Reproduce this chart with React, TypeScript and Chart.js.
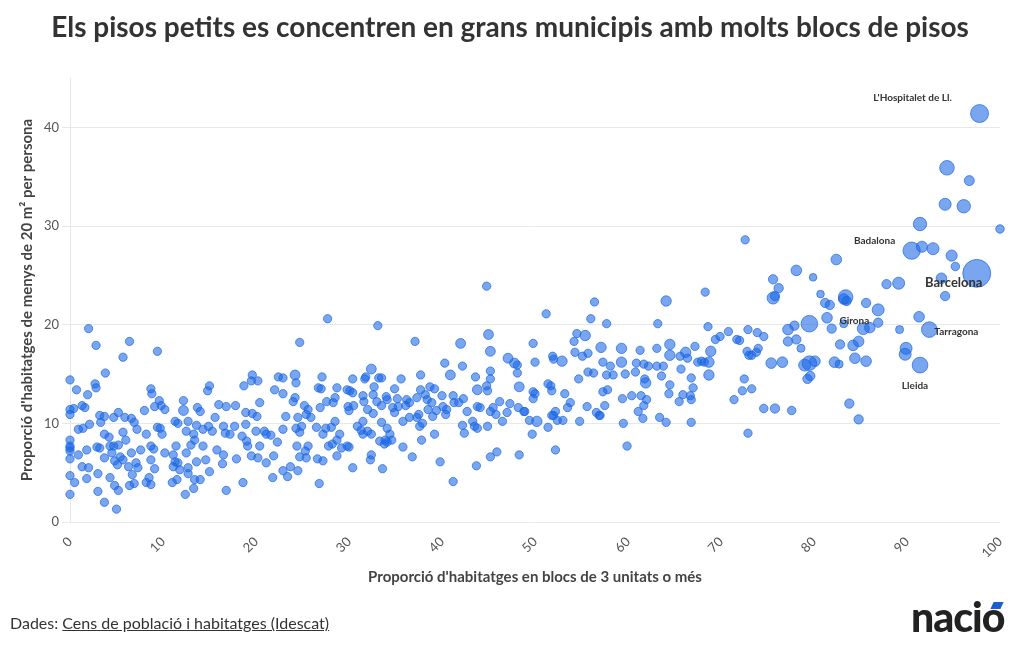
import React, { useEffect, useRef } from "react";
import { Chart, registerables } from "chart.js";

Chart.register(...registerables);

// Each municipality: [share of dwellings in blocks of 3+ units (%), share of dwellings < 20 m² per person (%), population (thousands, optional)]
type Town = [number, number, number?];

const townsLowBlocks: Town[] = [
  [2.0, 19.6], [2.8, 17.9], [6.4, 18.3], [5.7, 16.7], [9.4, 17.3], [3.8, 15.1], [0, 14.4], [0.7, 13.4], [1.9, 12.9], [2.7, 14.0],
  [2.8, 13.6], [1.3, 11.8], [1.6, 11.6], [0, 11.4], [0, 10.9], [0.4, 11.5], [3.2, 10.8], [3.7, 10.7], [3.3, 10.1], [2.1, 9.9],
  [1.4, 9.5], [0.9, 9.4], [0, 8.3], [0, 7.7], [0, 7.2], [0, 7.5], [0, 6.4], [0.9, 6.8], [1.8, 7.3], [2.9, 7.6], [1.3, 5.6],
  [2.0, 5.5], [1.8, 4.4], [0, 4.7], [0.5, 4.0], [0, 2.8], [3.0, 4.9], [3.0, 3.1], [3.7, 2.0], [5.0, 1.3], [4.3, 4.5],
  [4.8, 3.7], [5.2, 3.2], [3.2, 7.5], [3.7, 6.5], [4.3, 7.7], [4.7, 7.7], [4.5, 7.0], [5.2, 7.8], [5.4, 6.6], [4.8, 6.2],
  [5.1, 5.8], [3.7, 8.9], [4.2, 8.6], [4.7, 10.6], [5.2, 11.1], [5.7, 9.1], [6.0, 8.3], [7.2, 9.4], [6.6, 10.5], [6.9, 10.1],
  [5.9, 10.6], [5.7, 6.3], [6.3, 5.6], [6.6, 7.0], [7.1, 6.0], [7.3, 5.5], [7.6, 7.3], [6.7, 4.8], [6.4, 3.7], [6.9, 3.9],
  [8.2, 4.0], [8.7, 3.8], [8.2, 8.9], [8.7, 7.7], [9.0, 7.4], [8.7, 6.3], [9.1, 5.4], [8.5, 4.5], [8.0, 11.3], [8.7, 13.5],
  [8.8, 13.0], [9.1, 11.7], [9.6, 12.3], [9.8, 11.8], [10.2, 11.4], [9.4, 9.6], [9.7, 9.5], [9.9, 8.9], [10.2, 7.0], [11.1, 6.8],
  [11.4, 7.7], [11.3, 6.1], [11.1, 5.6], [11.6, 6.0], [11.8, 5.3], [11.5, 4.3], [11.0, 4.0], [11.3, 10.2], [11.6, 10.0], [12.2, 11.3, 8],
  [12.2, 12.3], [12.7, 10.2], [12.5, 9.2], [13.0, 7.8], [13.3, 8.9], [13.6, 9.8], [13.7, 11.6], [14.0, 11.2], [13.4, 8.3], [12.5, 7.0],
  [13.6, 6.1], [12.7, 5.5], [12.7, 4.9], [13.4, 4.3], [14.0, 4.3], [13.3, 3.4], [12.4, 2.8], [14.3, 9.4], [14.9, 9.7], [15.0, 13.8],
  [14.8, 13.3], [15.6, 10.6], [15.3, 9.2], [15.8, 7.3], [16.5, 9.7], [16.0, 11.9], [16.8, 11.7], [16.7, 9.0], [17.2, 8.9], [17.7, 9.7],
  [17.8, 11.8], [14.3, 7.7], [14.6, 6.3], [15.0, 5.1], [16.5, 6.8], [16.4, 5.9], [17.9, 6.4], [16.8, 3.2], [18.6, 4.0], [18.7, 13.8],
  [19.6, 14.9], [19.5, 14.3], [20.2, 14.3], [20.4, 12.1], [18.9, 11.1], [19.6, 11.0], [20.1, 10.7], [18.9, 9.9], [20.0, 9.2], [20.9, 9.2],
  [21.1, 8.9], [21.6, 8.8], [18.5, 8.7], [19.0, 8.2], [19.1, 7.7], [19.5, 6.7], [20.2, 6.5], [20.4, 7.7], [21.1, 6.0], [21.9, 6.7],
  [21.8, 4.5], [22.3, 8.1], [22.9, 9.4], [23.2, 10.7], [24.2, 14.9, 8], [24.3, 14.1], [22.4, 14.7], [22.9, 14.6], [22.0, 13.4], [22.9, 13.0],
  [24.0, 12.2], [24.2, 12.6], [24.5, 10.6], [24.3, 9.5], [24.7, 9.1], [24.4, 7.7], [25.3, 7.2], [24.7, 6.6], [23.7, 5.6], [23.4, 4.6],
  [24.5, 5.2], [22.9, 5.2], [25.4, 10.9], [25.2, 11.8], [24.7, 18.2],
];

const townsMidBlocks: Town[] = [
  [25.6, 11.4], [25.9, 10.6], [25.4, 6.5], [25.6, 7.7], [24.9, 9.7], [27.7, 20.6], [33.1, 19.9], [37.1, 18.3], [42.0, 18.1, 8], [45.0, 19.0, 8],
  [45.2, 17.3, 8], [47.1, 16.6, 8], [47.8, 16.1, 8], [48.1, 15.9], [48.1, 15.1], [48.3, 13.7, 8], [40.3, 16.1], [42.2, 15.8], [40.9, 14.9, 8], [45.2, 15.3],
  [45.2, 14.5], [44.8, 13.8], [43.8, 13.4, 8], [44.9, 13.3], [43.6, 14.7], [37.7, 14.9], [35.6, 14.5], [33.2, 14.6], [33.5, 14.6], [32.4, 15.5, 8],
  [31.8, 14.7], [31.7, 14.5], [30.4, 14.5], [27.1, 14.7], [26.7, 13.6], [27.0, 13.5], [28.7, 13.6], [29.8, 13.4], [30.1, 13.3], [30.4, 13.1],
  [32.7, 13.7], [32.6, 12.9], [31.5, 12.8], [31.6, 12.2], [34.9, 13.5], [34.0, 12.7], [34.1, 12.4], [35.2, 12.5], [36.2, 12.4], [36.5, 12.1],
  [36.1, 11.8], [35.3, 11.7], [37.3, 12.6], [37.7, 13.4], [38.4, 12.4], [38.2, 12.9], [38.7, 13.7], [39.2, 13.5], [40.0, 12.8], [38.9, 12.1],
  [38.5, 11.4], [37.5, 10.9], [37.3, 10.6], [37.9, 10.0], [37.6, 9.7], [39.0, 10.7], [39.4, 11.3], [40.1, 11.7], [40.5, 11.4], [40.4, 10.9],
  [41.2, 12.8], [41.3, 12.1], [41.8, 12.1], [42.3, 12.5], [42.2, 9.8], [42.4, 9.0], [42.7, 11.2], [43.3, 10.2], [43.5, 9.7], [43.8, 11.7],
  [44.1, 11.6], [43.8, 9.5], [44.9, 9.7], [45.2, 11.2], [45.5, 11.6], [46.2, 12.2], [45.8, 10.9], [46.5, 10.2], [47.0, 11.1], [47.3, 12.0],
  [48.2, 11.6], [48.9, 11.2], [49.4, 10.3], [48.3, 6.8], [45.9, 7.1], [45.2, 6.6], [43.7, 5.7], [39.8, 6.1], [41.2, 4.1], [26.5, 9.6],
  [26.9, 11.6], [27.6, 12.2], [28.3, 12.1], [28.5, 12.6], [28.1, 9.6], [28.5, 10.2], [27.5, 9.5], [27.2, 8.9], [27.8, 7.7], [28.2, 7.9],
  [28.7, 8.3], [29.0, 8.9], [29.2, 7.5], [29.8, 7.7], [30.0, 7.6], [28.7, 6.7], [27.2, 6.2], [26.6, 6.4], [26.8, 3.9], [29.9, 11.7],
  [30.0, 11.3], [30.5, 11.8], [30.9, 9.7], [31.5, 10.2], [31.3, 9.3], [31.5, 8.9], [32.0, 9.2], [32.4, 8.9], [32.4, 6.8], [32.3, 6.3],
  [30.4, 5.5], [33.6, 5.4], [32.0, 11.4], [32.6, 11.0], [33.0, 12.2], [33.5, 11.8], [33.5, 10.1], [34.1, 9.5], [34.4, 8.9], [34.6, 8.3],
  [34.1, 8.1], [33.9, 8.3], [33.8, 7.9], [33.3, 8.2], [34.7, 11.6], [34.9, 11.1], [35.8, 10.2], [35.8, 7.6], [36.8, 6.6], [37.8, 8.3],
  [39.2, 8.9], [36.5, 10.6], [44.8, 23.9],
];

const townsHighBlocks: Town[] = [
  [68.3, 23.3], [64.1, 22.4, 12], [56.4, 22.3], [51.2, 21.1], [56.0, 20.6], [57.7, 20.1], [63.2, 20.1], [68.6, 19.8], [70.8, 19.3], [71.7, 18.5],
  [72.0, 18.4], [72.9, 19.5], [54.5, 19.1], [55.4, 18.9, 12], [54.2, 18.3], [49.8, 18.1], [54.3, 17.2], [55.1, 16.8], [55.7, 17.1], [57.1, 17.7, 12],
  [59.3, 17.6, 12], [61.3, 17.4], [63.1, 17.6], [64.5, 18.0, 12], [64.5, 16.9, 12], [65.6, 16.8], [66.2, 17.2, 12], [66.4, 16.6], [67.2, 17.8], [68.9, 17.3, 12],
  [69.4, 18.5], [69.9, 18.8], [50.0, 16.2], [51.9, 16.8], [52.0, 16.5], [52.9, 16.3, 12], [57.3, 16.2], [58.1, 15.8], [59.3, 16.2, 12], [60.9, 16.1],
  [61.7, 16.0], [62.2, 15.8], [63.1, 15.8], [63.8, 15.8], [67.5, 16.2], [67.9, 16.3], [68.2, 16.2], [68.7, 16.2, 12], [68.7, 14.9, 12], [66.8, 14.6],
  [65.7, 15.5], [63.6, 14.8], [60.8, 15.2], [59.7, 15.0], [57.7, 14.9], [58.4, 14.9], [55.7, 15.2], [56.3, 15.1], [54.7, 14.5], [49.8, 13.2],
  [50.0, 13.0], [49.8, 12.5], [51.4, 14.0], [51.7, 13.8], [51.8, 13.3], [53.2, 13.0], [53.8, 12.1], [53.5, 11.6], [52.2, 11.2], [52.0, 10.8],
  [52.4, 10.3], [53.0, 10.3], [50.2, 10.2, 12], [51.4, 9.6], [49.7, 8.9], [52.2, 7.3], [54.8, 10.2], [55.6, 11.7], [56.6, 11.1], [56.9, 10.8],
  [57.5, 11.8], [57.3, 13.2], [57.8, 13.4], [59.4, 12.5], [60.4, 12.8], [61.4, 12.8], [62.0, 12.4], [61.7, 11.8], [61.1, 11.2], [61.6, 10.5],
  [59.5, 10.0], [59.9, 7.7], [61.8, 14.5], [61.9, 14.1, 12], [63.4, 10.6], [64.1, 10.1], [64.5, 13.9], [64.4, 13.0], [65.5, 12.2], [65.9, 12.9],
  [66.7, 12.8], [66.8, 12.4], [67.0, 13.6], [66.8, 10.1], [71.4, 12.4], [72.3, 13.3], [72.5, 14.5], [72.8, 17.3], [73.0, 16.9], [72.9, 9.0],
  [48.8, 11.2], [51.8, 10.8], [57.0, 10.8], [72.6, 28.6], [73.9, 19.2], [74.6, 18.8], [73.3, 16.9], [74.0, 17.6], [73.8, 17.2], [73.3, 13.5],
];

const townsVeryHighBlocks: Town[] = [
  [97.8, 41.4, 265], [94.3, 35.9, 95], [96.7, 34.6, 9], [94.1, 32.2, 32], [96.1, 32.0, 60], [91.4, 30.2, 60], [100, 29.7, 2], [90.5, 27.5, 223],
  [91.6, 27.9, 20], [92.8, 27.7, 32], [94.8, 27.0, 20], [95.2, 25.9, 2], [97.5, 25.2, 1660], [93.7, 24.7, 14], [82.4, 26.6, 14], [78.1, 25.5, 14],
  [79.9, 24.8, 0.5], [75.6, 24.6, 5], [76.2, 23.7, 5], [75.6, 22.7, 32], [75.8, 22.9, 5], [89.1, 24.2, 32], [87.8, 24.1, 5], [94.1, 22.9, 5],
  [80.7, 23.1, 0.5], [81.2, 22.2, 5], [81.7, 22.0, 5], [83.4, 22.8, 95], [83.2, 22.6, 14], [83.5, 22.4, 5], [85.6, 22.2, 5], [86.9, 21.5, 32],
  [86.9, 20.2, 5], [81.4, 20.7, 14], [79.5, 20.1, 182], [77.9, 19.9, 5], [77.2, 19.5, 14], [81.9, 19.6, 5], [83.2, 20.1, 1], [85.3, 19.6, 32],
  [86.0, 19.7, 14], [91.3, 20.8, 14], [92.4, 19.5, 135], [89.2, 19.5, 1], [89.9, 17.6, 32], [89.8, 17.0, 32], [91.4, 15.9, 140], [75.4, 16.1, 14],
  [76.6, 16.2, 14], [77.2, 18.3, 5], [78.1, 18.5, 5], [78.6, 17.6, 1], [79.0, 15.9, 32], [79.5, 16.1, 95], [80.1, 16.3, 14], [79.3, 14.5, 5],
  [79.6, 14.8, 5], [82.2, 16.2, 14], [82.7, 16.0, 1], [84.4, 16.6, 14], [85.6, 16.3, 14], [82.8, 18.0, 5], [84.2, 17.9, 14], [84.8, 18.3, 14],
  [84.8, 10.4, 5], [83.8, 12.0, 5], [77.6, 11.3, 2], [75.8, 11.5, 5], [74.6, 11.5, 2],
];

const labelNames = ["L'Hospitalet de Ll.", "Badalona", "Barcelona", "Girona", "Tarragona", "Lleida"];
const labelX = [97.8, 90.5, 97.5, 79.5, 92.4, 91.4];
const labelY = [41.4, 27.5, 25.2, 20.1, 19.5, 15.9];

const xTicks = [0, 10, 20, 30, 40, 50, 60, 70, 80, 90, 100];
const yTicks = [0, 10, 20, 30, 40];

// style for labels (pixel offsets from the municipality's bubble)
const labelStyle: Record<string, { dx: number; dy: number; size: number }> = {
  "L'Hospitalet de Ll.": { dx: -67, dy: -16, size: 10 },
  Badalona: { dx: -37, dy: -10, size: 10 },
  Barcelona: { dx: -23, dy: 9, size: 13 },
  Girona: { dx: 45, dy: -3, size: 10 },
  Tarragona: { dx: 27, dy: 2, size: 10 },
  Lleida: { dx: -5, dy: 21, size: 10 },
};

const FONT = "Lato, 'Open Sans', sans-serif";

function radiusFor(pop: number) {
  return 3.08 + 0.92 * Math.cbrt(pop);
}

export default function App() {
  const ref = useRef<HTMLCanvasElement | null>(null);

  useEffect(() => {
    if (!ref.current) return;
    const all = [...townsLowBlocks, ...townsMidBlocks, ...townsHighBlocks, ...townsVeryHighBlocks];
    const data = all.map((t) => ({ x: t[0], y: t[1], r: radiusFor(t[2] ?? 1.5) }));

    const labelsPlugin = {
      id: "cityLabels",
      afterDatasetsDraw(chart: any) {
        const { ctx, scales } = chart;
        ctx.save();
        ctx.fillStyle = "#333";
        ctx.textAlign = "center";
        ctx.textBaseline = "middle";
        labelNames.forEach((name, i) => {
          const st = labelStyle[name];
          const px = scales.x.getPixelForValue(labelX[i]) + st.dx;
          const py = scales.y.getPixelForValue(labelY[i]) + st.dy;
          ctx.font = `bold ${st.size}px ${FONT}`;
          ctx.fillText(name, px, py);
        });
        ctx.restore();
      },
    };

    const chart = new Chart(ref.current, {
      type: "bubble",
      data: {
        datasets: [
          {
            data,
            backgroundColor: "rgba(26,102,230,0.58)",
            borderColor: "rgba(26,102,230,0.7)",
            borderWidth: 1,
            clip: false as any,
          },
        ],
      },
      options: {
        animation: false,
        responsive: false,
        devicePixelRatio: 1,
        layout: { padding: { top: 78, right: 20, left: 0, bottom: 0 } },
        plugins: { legend: { display: false }, tooltip: { enabled: false }, title: { display: false } },
        scales: {
          x: {
            type: "linear",
            min: 0,
            max: 100,
            afterFit: (s: any) => {
              s.height = 128;
            },
            afterBuildTicks: (s: any) => {
              s.ticks = xTicks.map((v) => ({ value: v }));
            },
            grid: { display: false },
            border: { display: false },
            ticks: {
              minRotation: 45,
              maxRotation: 45,
              color: "#555",
              font: { family: FONT, size: 13 },
              padding: 4,
            },
            title: {
              display: true,
              text: "Proporció d'habitatges en blocs de 3 unitats o més",
              color: "#444",
              font: { family: FONT, size: 15, weight: "bold" },
              padding: { top: 0, bottom: 64 },
            },
          },
          y: {
            type: "linear",
            min: 0,
            max: 45,
            afterFit: (s: any) => {
              s.width = 70;
            },
            afterBuildTicks: (s: any) => {
              s.ticks = yTicks.map((v) => ({ value: v }));
            },
            grid: { color: "#e8e8e8", tickLength: 8 },
            border: { display: true, color: "#e8e8e8" },
            ticks: { color: "#555", font: { family: FONT, size: 13 }, padding: 3 },
            title: {
              display: true,
              text: "Proporció d'habitatges de menys de 20 m² per persona",
              color: "#444",
              font: { family: FONT, size: 15, weight: "bold" },
              padding: { top: 18, bottom: 0 },
            },
          },
        },
      },
      plugins: [labelsPlugin],
    });
    return () => chart.destroy();
  }, []);

  return (
    <div style={{ position: "fixed", left: 0, top: 0, width: 1020, height: 650, background: "#fff", overflow: "hidden", fontFamily: FONT }}>
      <canvas ref={ref} width={1020} height={650} style={{ position: "absolute", left: 0, top: 0, width: 1020, height: 650 }} />
      <div style={{ position: "absolute", left: 0, top: 9, width: 1020, textAlign: "center", fontSize: 28, fontWeight: 700, color: "#333" }}>
        Els pisos petits es concentren en grans municipis amb molts blocs de pisos
      </div>
      <div style={{ position: "absolute", left: 10, top: 613, fontSize: 16, color: "#333" }}>
        Dades: <span style={{ textDecoration: "underline" }}>Cens de població i habitatges (Idescat)</span>
      </div>
      <div style={{ position: "absolute", left: 911, top: 592, fontSize: 41, fontWeight: 900, color: "#222", letterSpacing: -1 }}>
        naci<span style={{ position: "relative" }}>o<span style={{ position: "absolute", left: 10, top: 10, width: 10, height: 7, background: "#1a5fd0", transform: "skewX(-25deg)" }} /></span>
      </div>
    </div>
  );
}
